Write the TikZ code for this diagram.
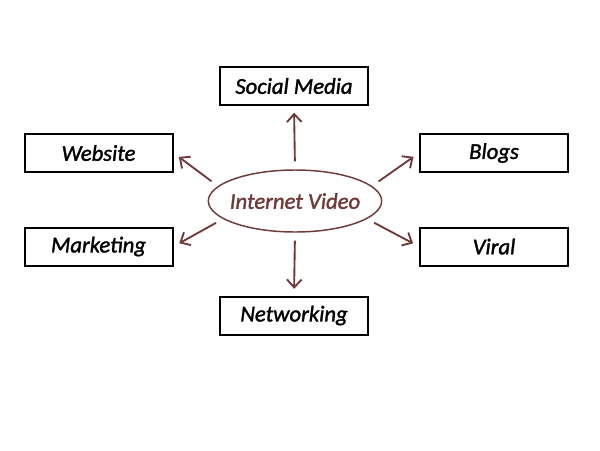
\documentclass[tikz,border=0pt]{standalone}
\usepackage{fontspec}
\setmainfont{Carlito}[ItalicFeatures={FakeBold=1.5}]
\usetikzlibrary{arrows.meta}
\usetikzlibrary{shapes.geometric}
\definecolor{maroon}{RGB}{110,58,58}

\begin{document}
\begin{tikzpicture}[x=0.75pt, y=-0.75pt,
		box/.style={draw, line width=1.5pt, minimum width=111pt, minimum height=28.5pt, inner sep=0pt, font=\itshape\fontsize{17}{19}\selectfont},
		link/.style={draw=maroon, line width=1.4pt, -{Straight Barb[length=6pt, width=11pt]}, shorten <=6pt, shorten >=5pt}]
		\useasboundingbox (0,0) rectangle (600,450);
		\node[draw=maroon, line width=1.1pt, ellipse, minimum width=130pt, minimum height=46.5pt, inner sep=0pt, text=maroon, font=\itshape\fontsize{17}{19}\selectfont] (video) at (295,201) {\makebox[0pt]{Internet Video}};
		\node[box] (social) at (294,86) {Social Media};
		\node[box] (website) at (98.5,153) {Website};
		\node[box] (blogs) at (494,153) {Blogs};
		\node[box] (marketing) at (98.5,246.5) {Marketing};
		\node[box] (viral) at (494,246.5) {Viral};
		\node[box] (networking) at (294,315.5) {Networking};
		\draw[link] (video.north) -- (social.south);
		\draw[link] (video.169) -- (website.east);
		\draw[link] (video.11) -- (blogs.west);
		\draw[link] (video.194) -- (marketing.east);
		\draw[link] (video.346) -- (viral.west);
		\draw[link] (video.south) -- (networking.north);
	\end{tikzpicture}
\end{document}
